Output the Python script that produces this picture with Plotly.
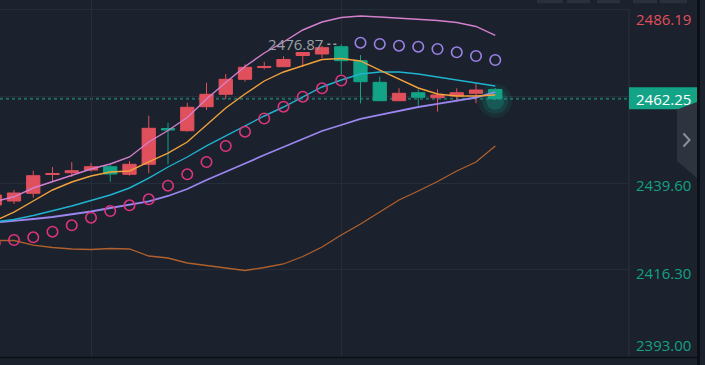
import plotly.graph_objects as go

# ---------------- data ----------------
idx = list(range(-1, 26))
opens = [2433.69, 2434.76, 2436.83, 2441.88, 2442.37, 2443.09, 2443.98, 2441.94, 2444.63,
         2454.25, 2453.66, 2460.11, 2463.44, 2467.48, 2470.65, 2470.86, 2473.87, 2474.28,
         2476.24, 2472.48, 2466.67, 2461.72, 2463.87, 2462.53, 2462.99, 2463.71, 2464.73]
highs = [2437.18, 2437.72, 2442.91, 2443.90, 2445.25, 2444.98, 2444.44, 2445.51, 2457.69,
         2455.81, 2461.19, 2466.56, 2468.90, 2471.51, 2472.21, 2473.66, 2474.81, 2476.43,
         2476.87, 2474.01, 2468.17, 2465.06, 2464.79, 2464.79, 2465.06, 2466.40, 2465.14]
lows = [2433.15, 2433.95, 2435.65, 2439.95, 2441.21, 2442.64, 2439.95, 2441.56, 2442.21,
        2444.63, 2453.39, 2459.22, 2462.10, 2466.83, 2470.16, 2470.78, 2470.78, 2473.20,
        2468.90, 2461.02, 2461.60, 2461.60, 2460.38, 2458.77, 2461.46, 2461.02, 2461.90]
closes = [2436.37, 2436.91, 2441.56, 2442.15, 2442.91, 2443.98, 2442.02, 2444.63, 2454.30,
          2453.85, 2459.95, 2463.44, 2467.48, 2470.70, 2470.92, 2472.80, 2474.68, 2475.97,
          2472.48, 2466.83, 2461.72, 2463.71, 2462.64, 2463.25, 2463.87, 2464.60, 2462.25]

boll_upper = [2434.60, 2435.90, 2438.26, 2440.00, 2441.62, 2443.36, 2444.71, 2446.59, 2450.62,
              2453.71, 2457.21, 2462.18, 2466.62, 2470.92, 2474.54, 2477.50, 2480.73, 2482.88,
              2484.09, 2484.49, 2484.22, 2483.95, 2483.68, 2483.28, 2482.74, 2481.67, 2479.25]
boll_lower = [2424.14, 2424.14, 2422.93, 2422.26, 2421.86, 2421.72, 2421.99, 2421.86, 2419.98,
              2419.44, 2418.10, 2417.42, 2416.62, 2416.08, 2416.89, 2417.83, 2419.84, 2422.40,
              2425.62, 2428.58, 2431.80, 2435.03, 2437.45, 2440.00, 2442.83, 2445.25, 2449.55]
ma_orange = [2429.39, 2431.80, 2434.76, 2437.72, 2439.87, 2441.48, 2442.56, 2442.83, 2445.25,
             2447.66, 2450.62, 2455.19, 2459.76, 2463.52, 2467.02, 2469.44, 2471.05, 2472.80,
             2473.07, 2472.40, 2469.97, 2467.56, 2465.14, 2463.52, 2462.99, 2462.99, 2463.25]
ma_cyan = [2429.12, 2429.79, 2430.86, 2432.07, 2433.42, 2434.90, 2436.37, 2438.26, 2440.94,
           2443.90, 2446.59, 2449.55, 2452.23, 2454.92, 2457.61, 2460.03, 2462.72, 2465.41,
           2467.29, 2468.90, 2469.44, 2469.44, 2468.90, 2468.09, 2467.29, 2466.48, 2465.67]
ma_purple = [2428.98, 2429.39, 2429.92, 2430.46, 2431.13, 2431.94, 2432.88, 2433.69, 2434.63,
             2436.11, 2437.99, 2440.41, 2442.56, 2444.84, 2447.13, 2449.28, 2451.43, 2453.58,
             2455.19, 2456.81, 2457.88, 2458.96, 2460.03, 2460.84, 2461.64, 2462.58, 2464.06]

sar_up_idx = list(range(-1, 18))
sar_up = [2423.47, 2424.28, 2425.00, 2426.51, 2428.23, 2430.27, 2432.07, 2433.61, 2435.22,
          2438.87, 2441.94, 2445.25, 2449.55, 2453.39, 2456.94, 2460.11, 2462.80, 2465.06, 2467.15]
sar_dn_idx = list(range(18, 26))
sar_dn = [2477.31, 2476.97, 2476.51, 2476.24, 2475.62, 2474.73, 2473.74, 2472.66]

grid_vals = [2393.00, 2416.30, 2439.60, 2462.90, 2486.20]
axis_labels = ["2486.19", "2439.60", "2416.30", "2393.00"]
axis_label_vals = [2486.19, 2439.60, 2416.30, 2393.00]
last_price = 2462.25
high_label = "2476.87"
high_idx = 17
high_val = 2476.87

# ---------------- style ----------------
BG = "#1b212d"
GRID = "#262d3a"
RED = "#e0505c"
GREEN = "#13a386"
FONT = "Open Sans"
PW, PH = 629, 357  # plot area in px


def fx(px):
    return px / PW


def fy(py):
    return 1 - py / PH


fig = go.Figure()

# glow around last candle
for s, a in [(34, 0.10), (26, 0.16), (18, 0.25)]:
    fig.add_trace(go.Scatter(x=[idx[-1]], y=[2461.7], mode="markers",
                             marker=dict(size=s, color=f"rgba(19,163,134,{a})", line=dict(width=0)),
                             hoverinfo="skip"))

fig.add_trace(go.Scatter(x=idx, y=boll_lower, mode="lines", line=dict(color="#b0602c", width=1.3)))
fig.add_trace(go.Scatter(x=idx, y=boll_upper, mode="lines", line=dict(color="#d47fce", width=1.4)))
fig.add_trace(go.Scatter(x=idx, y=ma_purple, mode="lines", line=dict(color="#9a86ee", width=1.8)))
fig.add_trace(go.Scatter(x=idx, y=ma_cyan, mode="lines", line=dict(color="#1fb4d0", width=1.4)))
fig.add_trace(go.Scatter(x=idx, y=ma_orange, mode="lines", line=dict(color="#f2a23c", width=1.4)))

fig.add_trace(go.Candlestick(
    x=idx, open=opens, high=highs, low=lows, close=closes,
    increasing=dict(line=dict(color=RED, width=1), fillcolor=RED),
    decreasing=dict(line=dict(color=GREEN, width=1), fillcolor=GREEN),
    whiskerwidth=0))

fig.add_trace(go.Scatter(x=sar_up_idx, y=sar_up, mode="markers",
                         marker=dict(symbol="circle-open", size=10.5, color="#df347e", line=dict(width=1.6))))
fig.add_trace(go.Scatter(x=sar_dn_idx, y=sar_dn, mode="markers",
                         marker=dict(symbol="circle-open", size=10.5, color="#9a82e6", line=dict(width=1.6))))

shapes = []
# current price dashed line
shapes.append(dict(type="line", xref="paper", x0=0, x1=1, yref="y", y0=last_price, y1=last_price,
                   line=dict(color="#1e6c62", width=2, dash="3px,3px"), layer="below"))
# high marker dots
shapes.append(dict(type="line", xref="x", x0=high_idx - 0.72, x1=high_idx - 0.1, yref="y",
                   y0=high_val, y1=high_val, line=dict(color="#9ba1ab", width=1.5, dash="dot")))
# right axis separator
shapes.append(dict(type="line", xref="paper", x0=1, x1=1, yref="paper", y0=fy(9.5), y1=0,
                   line=dict(color="#2a303d", width=1)))
# bottom dark line
shapes.append(dict(type="line", xref="paper", x0=0, x1=fx(697), yref="paper", y0=fy(357.5), y1=fy(357.5),
                   line=dict(color="#0c0f14", width=1.5)))
# right dark border
shapes.append(dict(type="rect", xref="paper", x0=fx(697), x1=fx(700), yref="paper", y0=fy(0), y1=fy(365),
                   fillcolor="#0c0f14", line=dict(width=0)))
# last price label box
shapes.append(dict(type="rect", xref="paper", x0=fx(629), x1=fx(697), yref="paper", y0=fy(87.3), y1=fy(109.3),
                   fillcolor=GREEN, line=dict(width=0)))
# side panel with chevron
shapes.append(dict(type="path", xref="paper", yref="paper",
                   path=f"M {fx(677)},{fy(109.5)} L {fx(697)},{fy(102)} L {fx(697)},{fy(178)} L {fx(677)},{fy(161)} Z",
                   fillcolor="#2d333f", line=dict(width=0)))
shapes.append(dict(type="path", xref="paper", yref="paper",
                   path=f"M {fx(683.5)},{fy(133.5)} L {fx(689.5)},{fy(140)} L {fx(683.5)},{fy(146.5)}",
                   line=dict(color="#8c919b", width=2)))
# top toolbar buttons
for a, b in [(537, 563), (567, 590), (597, 620), (633, 657), (660, 687)]:
    shapes.append(dict(type="rect", xref="paper", x0=fx(a), x1=fx(b), yref="paper", y0=fy(-4), y1=fy(3.3),
                       fillcolor="#2a303c", line=dict(width=0)))

annotations = []
label_colors = [RED, "#14a083", "#14a083", "#14a083"]
label_shift = [-9.8, -1.7, -3.3, 11.4]
for t, v, c, s in zip(axis_labels, axis_label_vals, label_colors, label_shift):
    annotations.append(dict(text=t, xref="paper", x=fx(634), xanchor="left", yref="y", y=v, yanchor="middle",
                            yshift=s, showarrow=False, font=dict(family=FONT, size=15, color=c)))
annotations.append(dict(text=f"{last_price:.2f}", xref="paper", x=fx(634), xanchor="left", yref="y",
                        y=last_price, yanchor="middle", showarrow=False,
                        font=dict(family=FONT, size=15, color="#ffffff")))
annotations.append(dict(text=high_label, xref="x", x=high_idx, xanchor="right", xshift=-16, yref="y",
                        y=high_val, yanchor="middle", showarrow=False,
                        font=dict(family=FONT, size=15, color="#9ba0aa")))

fig.update_layout(
    width=705, height=365,
    margin=dict(l=0, r=76, t=0, b=8),
    paper_bgcolor=BG, plot_bgcolor=BG,
    showlegend=False,
    boxgap=0.31, boxgroupgap=0,
    xaxis=dict(range=[-0.727, 31.948], showgrid=True, gridcolor=GRID, gridwidth=1, tickvals=[4, 17],
               showticklabels=False, ticks="", zeroline=False, showline=False,
               rangeslider=dict(visible=False), fixedrange=True),
    yaxis=dict(range=[2392.83, 2488.79], showgrid=True, gridcolor=GRID, gridwidth=1, tickvals=grid_vals,
               showticklabels=False, ticks="", zeroline=False, showline=False, fixedrange=True),
    shapes=shapes,
    annotations=annotations,
    hovermode=False,
)

fig.write_html("out.html", config=dict(displayModeBar=False),
               post_script="document.body.style.margin='0px';document.body.style.padding='0px';"
                           "document.body.style.background='#1b212d';")
